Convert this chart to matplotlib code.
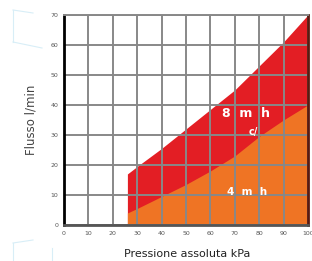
import numpy as np
import matplotlib
matplotlib.use("Agg")
import matplotlib.pyplot as plt
from matplotlib.lines import Line2D

# pressure (kPa) vs flow (l/min) envelopes
x_pts = [26, 30, 40, 50, 60, 70, 80, 90, 100]
flow_8 = [17, 19.5, 25.5, 32, 38.5, 45, 53, 61, 70]
flow_4 = [4, 5.5, 9.5, 13.5, 18, 23, 29.5, 35, 40]
ticks = list(range(0, 101, 10))
yticks = list(range(0, 71, 10))

RED, ORANGE, GRID = "#e31e24", "#ef7424", "#888888"

fig = plt.figure(figsize=(3.12, 2.61), dpi=100)
ax = fig.add_axes([0.205, 0.138, 0.782, 0.805])
ax.fill_between(x_pts, 0, flow_8, color=RED, lw=0, zorder=1)
ax.fill_between(x_pts, 0, flow_4, color=ORANGE, lw=0, zorder=2)
for t in ticks:
    ax.axvline(t, color=GRID, lw=1.4, zorder=3)
for t in yticks:
    ax.axhline(t, color=GRID, lw=1.4, zorder=3)

ax.text(74.5, 37, "8  m  h", color="white", fontsize=9, fontweight="bold", ha="center", va="center", zorder=4)
ax.text(77.5, 31, "c/", color="white", fontsize=7, fontweight="bold", ha="center", va="center", zorder=4)
ax.text(75, 11, "4  m  h", color="white", fontsize=7.5, fontweight="bold", ha="center", va="center", zorder=4)

ax.set_xlim(0, 100); ax.set_ylim(0, 70)
ax.set_xticks(ticks); ax.set_yticks(yticks)
ax.tick_params(labelsize=4.5, length=0, pad=4, colors="#555555")
ax.spines["left"].set_color("black"); ax.spines["left"].set_linewidth(2)
ax.spines["bottom"].set_color("#555555"); ax.spines["bottom"].set_linewidth(2)
ax.spines["top"].set_color(GRID); ax.spines["top"].set_linewidth(1.4)
ax.spines["right"].set_color("#5a1a10"); ax.spines["right"].set_linewidth(2)
for s in ax.spines.values():
    s.set_zorder(5)

fig.text(0.1, 0.54, "Flusso l/min", rotation=90, fontsize=8.5, ha="center", va="center", color="#444444")
fig.text(0.6, 0.025, "Pressione assoluta kPa", fontsize=8, ha="center", va="center", color="#222222")

# faint page decorations at left edge
deco = "#d8eef7"
for xs, ys in [([13, 33], [10, 13]), ([13, 13], [10, 42]), ([13, 42], [42, 48]),
               ([13, 13], [243, 261]), ([13, 33], [243, 240]), ([52, 52], [248, 261])]:
    fig.add_artist(Line2D([v / 312 for v in xs], [1 - v / 261 for v in ys], color=deco, lw=0.8))

fig.savefig("out.png", dpi=100)
